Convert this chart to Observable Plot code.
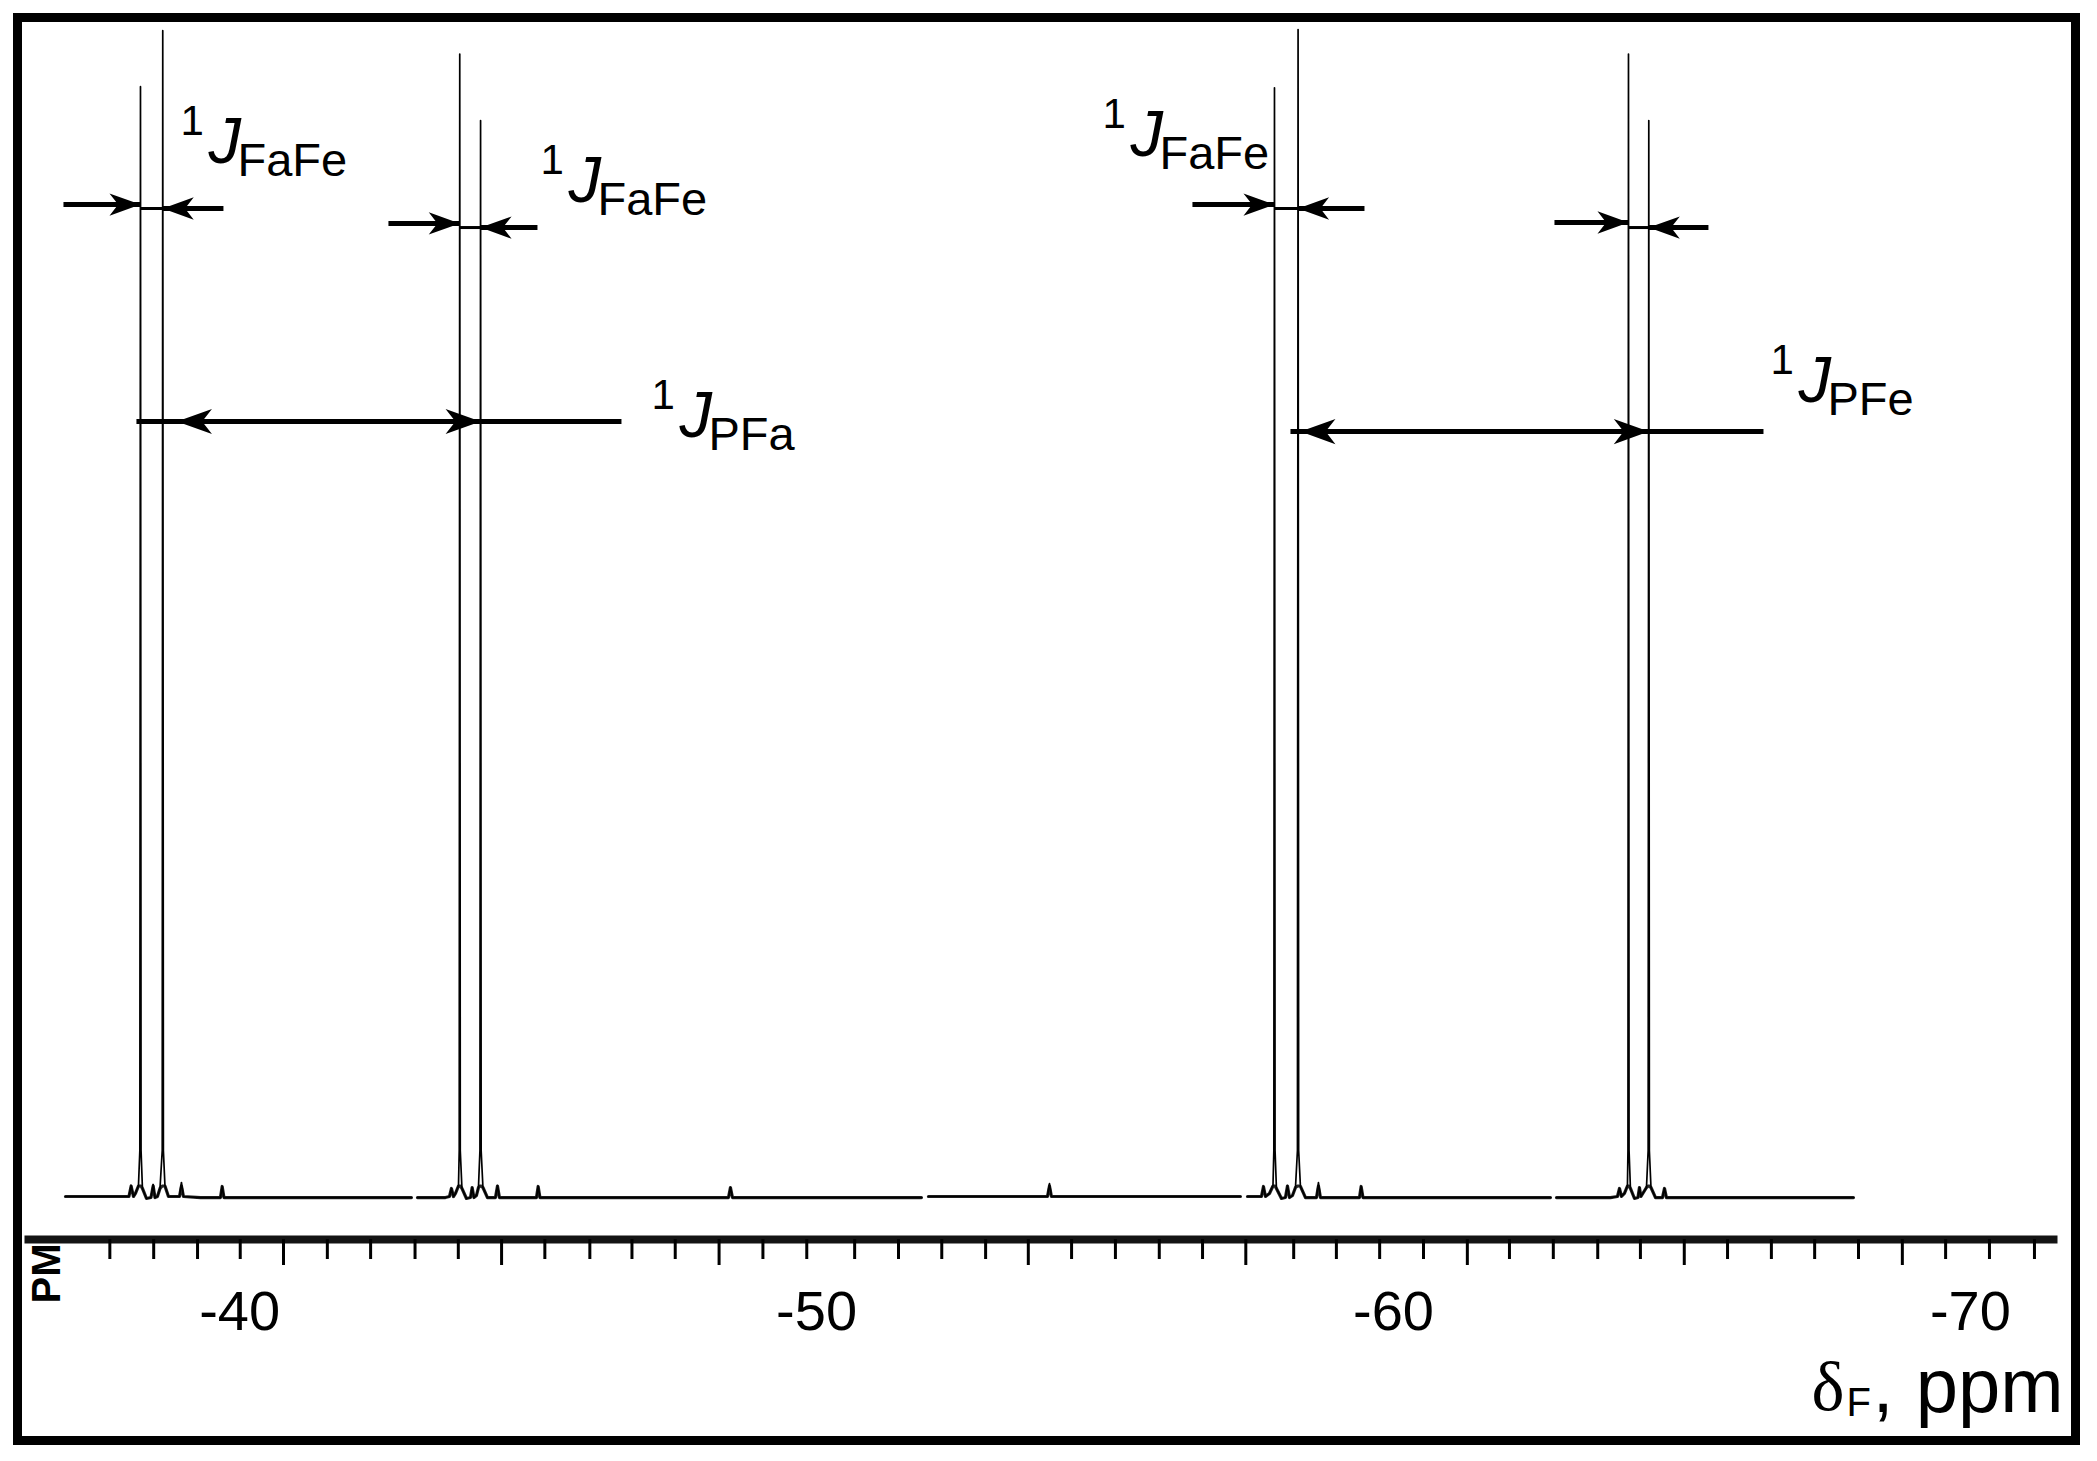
<!DOCTYPE html>
<html>
<head>
<meta charset="utf-8">
<script src="https://cdn.jsdelivr.net/npm/d3@7"></script>
<script src="https://cdn.jsdelivr.net/npm/@observablehq/plot@0.6"></script>
<style>
  html, body { margin: 0; padding: 0; background: #fff; }
  #wrap { position: relative; width: 2097px; height: 1461px; overflow: hidden; background: #fff; }
  #chart { position: absolute; left: 0; top: 0; }
  #frame { position: absolute; left: 13px; top: 13px; width: 2067px; height: 1432px;
           box-sizing: border-box; border: 9px solid #000; pointer-events: none; }
</style>
</head>
<body>
<div id="wrap"><div id="chart"></div><div id="frame"></div></div>
<script>
// ---- Scale domains (chemical shift in ppm, intensity in arbitrary units) ----
const xDomain = [-36.34, -71.44];
const yDomain = [-3.685, 100];

// ---- Tick values (ppm) ----
const tickLabels = [-40, -50, -60, -70];
const majorTicks = [-40.76, -44.54, -48.31, -53.67, -57.44, -61.28, -65.04, -68.82];
const minorTicks = [-37.75, -38.51, -39.27, -40.01, -41.52, -42.27, -43.04, -43.79,
  -45.29, -46.07, -46.80, -47.55, -49.07, -49.83, -50.66, -51.42, -52.17, -52.93,
  -54.42, -55.18, -55.94, -56.69, -58.27, -59.01, -59.76, -60.52, -62.01, -62.77,
  -63.54, -64.28, -65.79, -66.55, -67.30, -68.06, -69.57, -70.33, -71.11];

// ---- 19F spectrum trace: [ppm, intensity]; null = gap in the trace ----
const spectrum = [
  [-36.981, 0], [-38.081, 0], [-38.119, 0.94], [-38.159, 0], [-38.194, 0.26],
  [-38.246, 0.94], [-38.270, 3.94], [-38.281, 95.1], [-38.291, 3.94], [-38.315, 0.69],
  [-38.385, -0.17], [-38.463, -0.09], [-38.501, 1.03], [-38.532, -0.09], [-38.575, 0],
  [-38.619, 0.69], [-38.658, 3.94], [-38.667, 99.9], [-38.678, 3.94], [-38.705, 0.94],
  [-38.766, 0], [-38.957, 0], [-38.991, 1.2], [-39.026, 0], [-39.321, -0.09],
  [-39.667, -0.09], [-39.697, 0.86], [-39.728, -0.09], [-41.054, -0.09], [-42.978, -0.09],
  [-43.030, null], [-43.082, -0.09], [-43.567, -0.09], [-43.637, 0], [-43.671, 0.69],
  [-43.706, 0], [-43.741, 0.26], [-43.793, 0.94], [-43.806, 3.94], [-43.815, 97.9],
  [-43.824, 3.94], [-43.853, 0.69], [-43.931, -0.17], [-44.001, -0.09], [-44.030, 0.77],
  [-44.061, -0.09], [-44.105, 0.09], [-44.139, 0.77], [-44.165, 3.94], [-44.176, 92.2],
  [-44.186, 3.94], [-44.217, 0.77], [-44.295, -0.09], [-44.434, -0.09], [-44.469, 0.94],
  [-44.503, -0.09], [-45.145, -0.09], [-45.174, 0.86], [-45.205, -0.09], [-48.473, -0.09],
  [-48.507, 0.77], [-48.542, -0.09], [-51.818, -0.09], [-51.880, null], [-51.939, 0],
  [-54.002, 0], [-54.037, 1.11], [-54.071, 0], [-57.347, 0], [-57.410, null],
  [-57.469, 0], [-57.711, 0], [-57.746, 0.86], [-57.781, 0], [-57.850, 0.26],
  [-57.911, 0.94], [-57.926, 3.94], [-57.937, 95.0], [-57.947, 3.94], [-57.971, 0.69],
  [-58.058, -0.17], [-58.127, -0.09], [-58.162, 0.94], [-58.197, -0.09], [-58.249, 0.09],
  [-58.301, 0.77], [-58.335, 3.94], [-58.346, 100], [-58.356, 3.94], [-58.387, 0.86],
  [-58.474, -0.09], [-58.665, -0.09], [-58.699, 1.2], [-58.734, -0.09], [-59.410, -0.09],
  [-59.439, 0.86], [-59.471, -0.09], [-62.721, -0.09], [-62.770, null], [-62.825, -0.09],
  [-63.761, -0.09], [-63.882, 0], [-63.917, 0.69], [-63.951, 0], [-64.003, 0.26],
  [-64.055, 0.94], [-64.064, 3.94], [-64.073, 97.9], [-64.083, 3.94], [-64.107, 0.69],
  [-64.177, -0.17], [-64.237, -0.09], [-64.263, 0.77], [-64.289, 0], [-64.385, 0.77],
  [-64.414, 3.94], [-64.425, 92.2], [-64.435, 3.94], [-64.463, 0.77], [-64.541, -0.09],
  [-64.662, -0.09], [-64.697, 0.69], [-64.731, -0.09], [-67.973, -0.09]
];

// ---- Coupling arrows (FaFe): shaft start, arrow tip, height ----
const fafeFrom = [-36.946, -39.719, -42.579, -45.162, -56.515, -59.497, -62.790, -65.459];
const fafeTip  = [-38.281, -38.667, -43.815, -44.176, -57.937, -58.346, -64.073, -64.425];
const fafeY    = [85.00, 84.66, 83.38, 83.03, 85.00, 84.66, 83.46, 83.03];
// connectors between the two lines of each doublet
const connA = [-38.281, -43.815, -57.937, -64.073];
const connB = [-38.667, -44.176, -58.346, -64.425];
const connY = [84.66, 83.03, 84.66, 83.03];

// ---- P–F coupling arrows: line ends, height, arrow tips ----
const pfLineA = [-38.211, -58.214];
const pfLineB = [-46.618, -66.413];
const pfY     = [66.41, 65.55];
const pfTipsLeft  = [-38.913, -58.387];
const pfTipsRight = [-44.176, -64.425];

// ---- Annotation labels: J anchor position (ppm, intensity), subscript ----
const labelX = [-39.459, -45.699, -55.441, -67.019, -47.623];
const labelY = [88.52, 85.18, 89.20, 68.04, 65.04];
const labelSub = ["FaFe", "FaFe", "FaFe", "PFe", "PFa"];

// ---- derived tables ----
const arrows = fafeFrom.map((f, i) => ({from: f, tip: fafeTip[i], y: fafeY[i]}));
const connectors = connA.map((a, i) => ({a, b: connB[i], y: connY[i]}));
const pfLines = pfLineA.map((a, i) => ({a, b: pfLineB[i], y: pfY[i]}));
const pfHeads = [
  ...pfTipsLeft.map((t, i) => ({tip: t, y: pfY[i], dir: "left"})),
  ...pfTipsRight.map((t, i) => ({tip: t, y: pfY[i], dir: "right"}))
];
const labels = labelX.map((x, i) => ({x, y: labelY[i], sub: labelSub[i]}));

// stealth arrowhead symbol, tip at origin pointing +x; r = head length
const stealth = {
  draw(context, size) {
    const L = Math.sqrt(size / Math.PI);
    const H = L * 0.36;
    context.moveTo(0, 0);
    context.lineTo(-L, -H);
    context.lineTo(-0.72 * L, 0);
    context.lineTo(-L, H);
    context.closePath();
  }
};

const font = "'Liberation Sans', Arial, Helvetica, sans-serif";

const chart = Plot.plot({
  width: 2097,
  height: 1461,
  marginLeft: 28,
  marginRight: 44,
  marginTop: 29,
  marginBottom: 222,
  x: {domain: xDomain},
  y: {domain: yDomain, axis: null},
  style: {fontFamily: font, background: "transparent", color: "#000", overflow: "visible"},
  marks: [
    // noisy-looking baseline band (the trace clipped near the baseline, drawn heavier)
    Plot.line(spectrum, {x: d => d[0], y: d => (d[1] == null ? null : Math.min(d[1], 0.9)),
      stroke: "#000", strokeWidth: 3.2, strokeOpacity: 0.85}),
    // spectrum
    Plot.line(spectrum, {x: d => d[0], y: d => d[1], stroke: "#000", strokeWidth: 1.7}),
    // axis line and ticks
    Plot.frame({anchor: "bottom", stroke: "#141414", strokeWidth: 8}),
    Plot.axisX(minorTicks, {anchor: "bottom", tickSize: 20, strokeWidth: 3, tickFormat: () => "", label: null}),
    Plot.axisX(majorTicks, {anchor: "bottom", tickSize: 26, strokeWidth: 3, tickFormat: () => "", label: null}),
    Plot.axisX(tickLabels, {anchor: "bottom", tickSize: 0, tickPadding: 51, fontSize: 56,
      tickFormat: d => String(d), label: null}),
    // rotated "PM" remnant
    Plot.text(["PM"], {frameAnchor: "bottom-left", dx: 19, dy: 34, rotate: -90, fontSize: 40,
      fontWeight: "bold", textAnchor: "middle", lineAnchor: "middle"}),
    // axis title δF, ppm
    Plot.text(["δ"], {frameAnchor: "bottom-right", dx: -242, dy: 170, fontFamily: "'Liberation Serif', 'Times New Roman', serif",
      fontSize: 70, textAnchor: "start", lineAnchor: "bottom"}),
    Plot.text(["F"], {frameAnchor: "bottom-right", dx: -207, dy: 176, fontSize: 40,
      textAnchor: "start", lineAnchor: "bottom"}),
    Plot.text([","], {frameAnchor: "bottom-right", dx: -181, dy: 172, fontSize: 76,
      textAnchor: "start", lineAnchor: "bottom"}),
    Plot.text(["ppm"], {frameAnchor: "bottom-right", dx: 10, dy: 172, fontSize: 76,
      textAnchor: "end", lineAnchor: "bottom"}),
    // FaFe coupling arrows
    Plot.link(arrows, {x1: "from", x2: "tip", y1: "y", y2: "y", stroke: "#000", strokeWidth: 5, strokeLinecap: "butt"}),
    Plot.link(connectors, {x1: "a", x2: "b", y1: "y", y2: "y", stroke: "#000", strokeWidth: 3}),
    Plot.dot(arrows, {x: "tip", y: "y", symbol: stealth, r: 31, fill: "#000", stroke: "none",
      rotate: d => (d.tip < d.from ? 0 : 180)}),
    // P–F coupling arrows
    Plot.link(pfLines, {x1: "a", x2: "b", y1: "y", y2: "y", stroke: "#000", strokeWidth: 5, strokeLinecap: "butt"}),
    Plot.dot(pfHeads, {x: "tip", y: "y", symbol: stealth, r: 35, fill: "#000", stroke: "none",
      rotate: d => (d.dir === "right" ? 0 : 180)}),
    // labels ¹J_xx
    Plot.text(labels, {x: "x", y: "y", text: () => "J", fontStyle: "italic", fontSize: 65,
      textAnchor: "start", lineAnchor: "bottom"}),
    Plot.text(labels, {x: "x", y: "y", text: () => "1", fontSize: 42, dx: -28, dy: -28,
      textAnchor: "start", lineAnchor: "bottom"}),
    Plot.text(labels, {x: "x", y: "y", text: "sub", fontSize: 47, dx: 29, dy: 13,
      textAnchor: "start", lineAnchor: "bottom"})
  ]
});

document.getElementById("chart").appendChild(chart);
</script>
</body>
</html>
